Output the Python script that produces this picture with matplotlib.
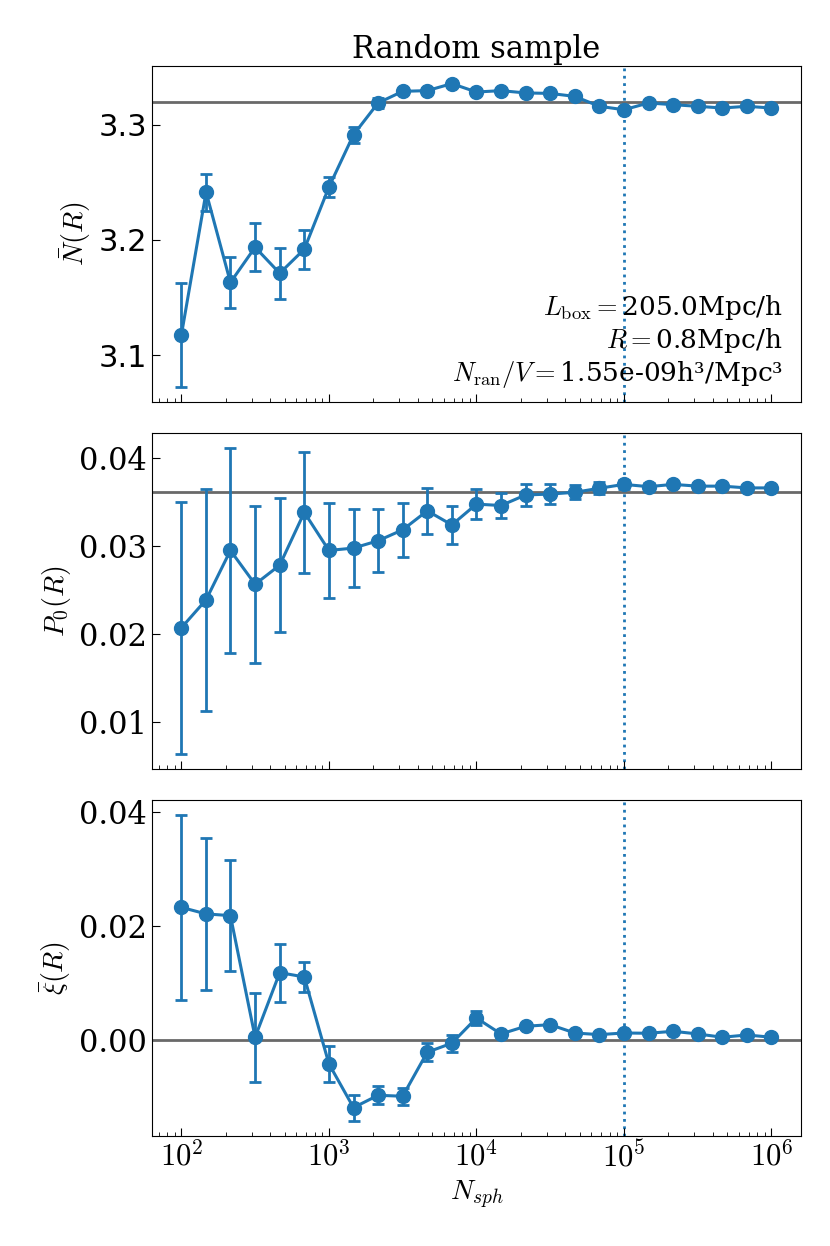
import matplotlib
matplotlib.use("Agg")
import matplotlib.pyplot as plt

plt.rcParams['font.family'] = ['DejaVu Serif', 'DejaVu Sans']
plt.rcParams['mathtext.fontset'] = 'cm'

n_sph = [100, 147, 215, 316, 464, 681, 1000, 1468, 2154, 3162, 4642, 6813,
         10000, 14678, 21544, 31623, 46416, 68129, 100000, 146780, 215443,
         316228, 464159, 681292, 1000000]

nbar = [3.1174, 3.2415, 3.1630, 3.1936, 3.1710, 3.1919, 3.2458, 3.2913, 3.3189,
        3.3290, 3.3296, 3.3357, 3.3284, 3.3296, 3.3276, 3.3272, 3.3246, 3.3160,
        3.3130, 3.3189, 3.3174, 3.3160, 3.3145, 3.3160, 3.3145]
nbar_err = [0.045, 0.016, 0.022, 0.021, 0.022, 0.017, 0.009, 0.007, 0.004, 0.002,
            0.002, 0.002, 0.002, 0.0015, 0.0015, 0.0012, 0.001, 0.001, 0.001,
            0.0008, 0.0008, 0.0006, 0.0006, 0.0005, 0.0005]
nbar_ref = 3.3194

p0 = [0.02072, 0.0239, 0.0295, 0.02566, 0.02783, 0.03382, 0.0295, 0.02977, 0.0306,
      0.03184, 0.0340, 0.0324, 0.03476, 0.0346, 0.0358, 0.0359, 0.0361, 0.03656,
      0.0370, 0.03674, 0.0370, 0.0368, 0.0368, 0.0366, 0.0366]
p0_err = [0.0143, 0.0126, 0.0116, 0.0089, 0.0076, 0.0069, 0.0054, 0.0044, 0.0036,
          0.0031, 0.0026, 0.0022, 0.0017, 0.0014, 0.0012, 0.0011, 0.0008, 0.0007,
          0.0005, 0.0004, 0.0003, 0.0003, 0.0002, 0.0002, 0.0002]
p0_ref = 0.03618

xi = [0.0233, 0.02215, 0.02185, 0.00047, 0.01183, 0.01107, -0.0042, -0.0119,
      -0.00973, -0.0099, -0.00216, -0.00058, 0.00385, 0.00105, 0.0024, 0.00268,
      0.00122, 0.00093, 0.00122, 0.00117, 0.00152, 0.00105, 0.00047, 0.00087,
      0.00047]
xi_err = [0.0162, 0.0134, 0.0097, 0.0078, 0.0051, 0.0027, 0.0032, 0.0023, 0.0016,
          0.0015, 0.0016, 0.0015, 0.0012, 0.0005, 0.0004, 0.0004, 0.0003, 0.0003,
          0.0003, 0.0002, 0.0002, 0.0002, 0.0002, 0.0001, 0.0001]
xi_ref = 0.0

n_chosen = 100000
xtick_vals = [1e2, 1e3, 1e4, 1e5, 1e6]
xtick_labels = [r'$10^{2}$', r'$10^{3}$', r'$10^{4}$', r'$10^{5}$', r'$10^{6}$']

fig, axes = plt.subplots(3, 1, figsize=(8.3, 12.46), dpi=100, sharex=True)
fig.subplots_adjust(left=0.183, right=0.965, top=0.947, bottom=0.0883, hspace=0.092)

panels = [
    (nbar, nbar_err, nbar_ref, r'$\bar{N}(R)$', 'DejaVu Sans'),
    (p0, p0_err, p0_ref, r'$P_0(R)$', 'DejaVu Serif'),
    (xi, xi_err, xi_ref, r'$\bar{\xi}(R)$', 'DejaVu Serif'),
]

for ax, (y, err, ref, lab, tfont) in zip(axes, panels):
    ax.set_xscale('log')
    ax.errorbar(n_sph, y, yerr=err, color='C0', marker='o', markersize=10,
                lw=2.2, elinewidth=2, capsize=4, capthick=2, zorder=3)
    ax.axhline(ref, color='dimgray', lw=2, zorder=2)
    ax.axvline(n_chosen, color='C0', ls=':', lw=2, zorder=1)
    ax.set_ylabel(lab, fontsize=20)
    ax.tick_params(which='both', direction='in', top=False, right=False)
    ax.tick_params(which='major', length=6, labelsize=22)
    ax.tick_params(which='minor', length=3)
    for t in ax.get_yticklabels():
        t.set_fontfamily(tfont)

axes[2].set_xlim(10**1.8, 10**6.2)

axes[0].set_title('Random sample', fontsize=22)
axes[0].text(0.972, 0.035,
             r'$L_{\rm box}=$205.0Mpc/h' + '\n' + r'$R=$0.8Mpc/h' + '\n'
             + r'$N_{\rm ran}/V=$1.55e-09h³/Mpc³',
             transform=axes[0].transAxes, ha='right', va='bottom',
             fontsize=19, linespacing=1.2)

axes[2].set_xticks(xtick_vals)
axes[2].set_xticklabels(xtick_labels)
axes[2].set_xlabel(r'$N_{sph}$', fontsize=20)

fig.savefig('out.png', dpi=100)
